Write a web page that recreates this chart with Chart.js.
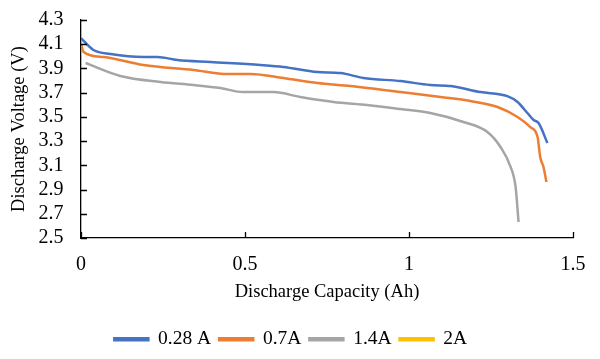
<!DOCTYPE html>
<html>
<head>
<meta charset="utf-8">
<script src="https://cdn.jsdelivr.net/npm/chart.js@4"></script>
<style>
  html, body { margin: 0; padding: 0; background: #fff; }
  #wrap { width: 600px; height: 359px; }
</style>
</head>
<body>
<div id="wrap"><canvas id="chart"></canvas></div>
<script>
const seriesLabels = ["0.28 A", "0.7A", "1.4A", "2A"];
const seriesColors = ["#4472C4", "#ED7D31", "#A5A5A5", "#FFC000"];

// discharge capacity (Ah) / voltage (V)
const capA = [0, 0.038, 0.09, 0.19, 0.233, 0.294, 0.395, 0.547, 0.617, 0.721, 0.791, 0.861, 0.974, 1.065, 1.127, 1.218, 1.3, 1.331, 1.361, 1.38, 1.395, 1.422];
const voltA = [4.15, 4.052, 4.019, 3.994, 3.994, 3.97, 3.953, 3.928, 3.912, 3.87, 3.862, 3.821, 3.796, 3.763, 3.755, 3.705, 3.672, 3.623, 3.532, 3.474, 3.449, 3.284];

const capB = [0, 0.008, 0.069, 0.19, 0.343, 0.447, 0.517, 0.617, 0.721, 0.822, 0.974, 1.096, 1.187, 1.27, 1.331, 1.37, 1.392, 1.4, 1.41, 1.419];
const voltB = [4.10, 4.036, 3.994, 3.928, 3.887, 3.854, 3.854, 3.821, 3.78, 3.755, 3.705, 3.664, 3.631, 3.582, 3.499, 3.416, 3.334, 3.169, 3.086, 2.962];

const capC = [0.014, 0.12, 0.242, 0.343, 0.425, 0.495, 0.587, 0.669, 0.77, 0.873, 0.974, 1.065, 1.166, 1.239, 1.279, 1.31, 1.325, 1.334];
const voltC = [3.945, 3.838, 3.788, 3.763, 3.738, 3.705, 3.705, 3.664, 3.623, 3.598, 3.565, 3.532, 3.458, 3.375, 3.251, 3.086, 2.921, 2.632];

const capD = [];
const voltD = [];

const xTicks = [0, 0.5, 1, 1.5];
const yTicks = [2.5, 2.7, 2.9, 3.1, 3.3, 3.5, 3.7, 3.9, 4.1, 4.3];

const toPoints = (xs, ys) => xs.map((x, i) => ({ x: x, y: ys[i] }));
const allCaps = [capA, capB, capC, capD];
const allVolts = [voltA, voltB, voltC, voltD];

const serif = "'Liberation Serif', 'Times New Roman', serif";

// small inward tick marks, like the office chart
const innerTicks = {
  id: "innerTicks",
  afterDraw(chart) {
    const { ctx, chartArea, scales } = chart;
    ctx.save();
    ctx.strokeStyle = "#000";
    ctx.lineWidth = 1.3;
    ctx.beginPath();
    xTicks.forEach(v => {
      const px = Math.round(scales.x.getPixelForValue(v)) + 0.5;
      ctx.moveTo(px, chartArea.bottom);
      ctx.lineTo(px, chartArea.bottom - 6);
    });
    yTicks.forEach(v => {
      const py = Math.round(scales.y.getPixelForValue(v)) + 0.5;
      ctx.moveTo(chartArea.left, py);
      ctx.lineTo(chartArea.left + 6, py);
    });
    ctx.stroke();
    ctx.restore();
  }
};

// let layout.padding alone decide the outer margins
const noEdgePadding = (axis) => {
  axis.paddingTop = 0;
  axis.paddingBottom = 0;
  axis.paddingLeft = 0;
  axis.paddingRight = 0;
};

new Chart(document.getElementById("chart"), {
  type: "line",
  data: {
    datasets: seriesLabels.map((label, i) => ({
      label: label,
      data: toPoints(allCaps[i], allVolts[i]),
      borderColor: seriesColors[i],
      backgroundColor: seriesColors[i],
      borderWidth: 2.5,
      pointRadius: 0,
      cubicInterpolationMode: "monotone",
      fill: false,
    })),
  },
  options: {
    responsive: true,
    maintainAspectRatio: false,
    animation: false,
    layout: {
      padding: { left: 8.5, right: 27, top: 20, bottom: 0 },
    },
    scales: {
      x: {
        type: "linear",
        min: 0,
        max: 1.5,
        afterBuildTicks: (axis) => { axis.ticks = xTicks.map(v => ({ value: v })); },
        afterFit: noEdgePadding,
        grid: { display: false, drawTicks: false },
        border: { display: true, color: "#000", width: 1.3 },
        ticks: {
          color: "#000",
          font: { family: serif, size: 20 },
          padding: 15,
          maxRotation: 0,
          autoSkip: false,
          callback: (v) => String(v),
        },
        title: {
          display: true,
          text: "Discharge Capacity (Ah)",
          color: "#000",
          font: { family: serif, size: 18.5 },
          padding: { top: -10.7, bottom: 18 },
        },
      },
      y: {
        min: 2.5,
        max: 4.3,
        afterBuildTicks: (axis) => { axis.ticks = yTicks.map(v => ({ value: v })); },
        afterFit: noEdgePadding,
        grid: { display: false, drawTicks: false },
        border: { display: true, color: "#000", width: 1.3 },
        ticks: {
          color: "#000",
          font: { family: serif, size: 20, lineHeight: 1 },
          padding: 17.5,
          autoSkip: false,
          callback: (v) => v.toFixed(1),
        },
        title: {
          display: true,
          text: "Discharge Voltage (V)",
          color: "#000",
          font: { family: serif, size: 18.5 },
          padding: { top: 0, bottom: -9.7 },
        },
      },
    },
    plugins: {
      legend: {
        position: "bottom",
        labels: {
          color: "#000",
          font: { family: serif, size: 19.5 },
          boxWidth: 34,
          boxHeight: 2,
          padding: 8,
        },
      },
      tooltip: { enabled: false },
    },
  },
  plugins: [innerTicks],
});
</script>
</body>
</html>
